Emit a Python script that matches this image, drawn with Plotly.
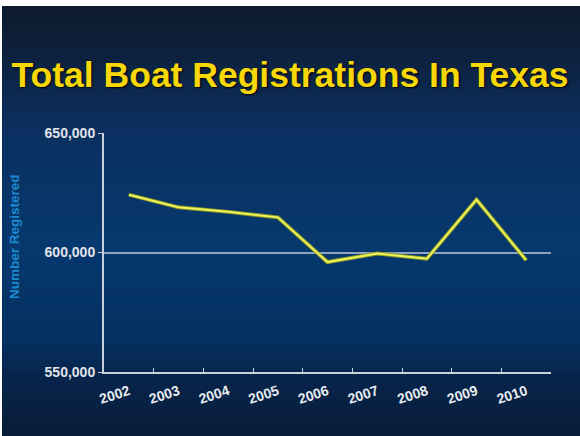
import plotly.graph_objects as go

years = ["2002", "2003", "2004", "2005", "2006", "2007", "2008", "2009", "2010"]
registrations = [624200, 618900, 617000, 614700, 596000, 599600, 597400, 622100, 596800]
y_ticks = [550000, 600000, 650000]
y_tick_labels = ["550,000", "600,000", "650,000"]

W, H = 580, 436
L, R, T, B = 104, 29, 133, 64
pw, ph = W - L - R, H - T - B

def px_to_paper_x(x):
    return (x - L) / pw

def px_to_paper_y(y):
    return (H - B - y) / ph

stops = [(6, (13, 26, 44)), (60, (13, 34, 64)), (130, (11, 48, 96)), (250, (6, 56, 110)),
         (340, (5, 48, 96)), (380, (7, 36, 74)), (436, (8, 28, 56))]

def color_at(y):
    for (y0, c0), (y1, c1) in zip(stops, stops[1:]):
        if y0 <= y <= y1:
            t = (y - y0) / (y1 - y0)
            return "rgb(%d,%d,%d)" % tuple(round(a + (b - a) * t) for a, b in zip(c0, c1))
    return "rgb(%d,%d,%d)" % stops[-1][1]

shapes = []
step = 4
y = 6
while y < H:
    y2 = min(y + step, H)
    shapes.append(dict(type="rect", xref="paper", yref="paper", layer="below",
                       x0=px_to_paper_x(2), x1=px_to_paper_x(W + 5),
                       y0=px_to_paper_y(y2 + 0.5), y1=px_to_paper_y(y),
                       fillcolor=color_at((y + y2) / 2), line=dict(width=0)))
    y = y2

fig = go.Figure()
fig.add_trace(go.Scatter(x=years, y=registrations, mode="lines",
                         line=dict(color="#8a9a28", width=4), hoverinfo="skip", showlegend=False))
fig.add_trace(go.Scatter(x=years, y=registrations, mode="lines",
                         line=dict(color="#eef25a", width=2), showlegend=False))

fig.update_layout(
    width=W, height=H,
    margin=dict(l=L, r=R, t=T, b=B),
    paper_bgcolor="white",
    plot_bgcolor="rgba(0,0,0,0)",
    shapes=shapes,
    showlegend=False,
    title=dict(text="Total Boat Registrations In Texas", x=0.5, xref="container", xanchor="center",
               y=(H - 75) / H, yanchor="middle",
               font=dict(family="Liberation Sans, Arial", size=35.5, color="#f7d708",
                         weight="bold", shadow="1px 1px 2px #000000")),
    font=dict(family="Liberation Sans, Arial"),
    annotations=[dict(text="Number Registered", textangle=-90, showarrow=False,
                      xref="paper", yref="paper", x=px_to_paper_x(14), y=px_to_paper_y(237),
                      xanchor="center", yanchor="middle",
                      font=dict(size=13.5, color="#1c8ad0", weight="bold"))],
)

fig.update_xaxes(type="category", tickson="boundaries", ticks="inside", ticklen=4,
                 tickcolor="#c8d0dc", showline=True, linecolor="#c8d0dc", linewidth=2,
                 showgrid=False, tickangle=-18, ticklabelstandoff=4,
                 tickfont=dict(size=14, color="#e8ecf0", weight="bold"),
                 range=[-0.5, len(years) - 0.5])

fig.update_yaxes(range=[550000, 650000], tickvals=y_ticks, ticktext=y_tick_labels,
                 ticks="outside", ticklen=4, tickcolor="#c8d0dc",
                 showline=True, linecolor="#c8d0dc", linewidth=2,
                 showgrid=True, gridcolor="rgba(200,210,225,0.7)", gridwidth=1.5,
                 zeroline=False,
                 tickfont=dict(size=14, color="#e0e4ea", weight="bold"))

fig.write_html("out.html", config={"displayModeBar": False},
               post_script="document.body.style.margin='0';")
